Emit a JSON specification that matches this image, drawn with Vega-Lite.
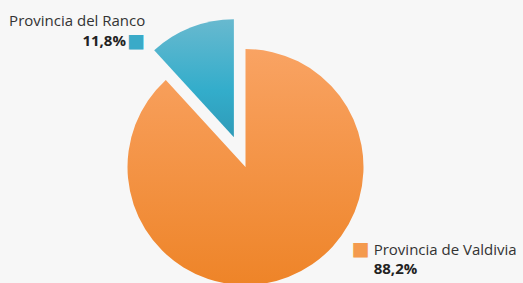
{
  "$schema": "https://vega.github.io/schema/vega-lite/v6.json",
  "width": 491,
  "height": 232,
  "autosize": {"type": "none"},
  "padding": {"left": 0, "top": 51, "right": 32, "bottom": 0},
  "background": "#f7f7f7",
  "config": {"view": {"stroke": null}},
  "data": {
    "values": [
      {"provincia": "Provincia de Valdivia", "pct": 88.2, "label": "88,2%"},
      {"provincia": "Provincia del Ranco", "pct": 11.8, "label": "11,8%"}
    ]
  },
  "encoding": {
    "theta": {"field": "pct", "type": "quantitative", "stack": true},
    "order": {"field": "pct", "type": "quantitative", "sort": "descending"}
  },
  "layer": [
    {
      "mark": {
        "type": "arc",
        "radius": 118,
        "fill": {"gradient": "linear", "x1": 0, "y1": 0, "x2": 0, "y2": 1,
          "stops": [{"offset": 0, "color": "#f9a363"}, {"offset": 1, "color": "#ee8428"}]}
      },
      "encoding": {
        "opacity": {"condition": {"test": "datum.provincia === 'Provincia de Valdivia'", "value": 1}, "value": 0}
      }
    },
    {
      "mark": {
        "type": "arc",
        "radius": 118,
        "xOffset": -11.6,
        "yOffset": -29.8,
        "fill": {"gradient": "linear", "x1": 0, "y1": 0, "x2": 0, "y2": 1,
          "stops": [{"offset": 0, "color": "#68b9cf"}, {"offset": 0.6, "color": "#33adcb"}, {"offset": 1, "color": "#2f9bb8"}]}
      },
      "encoding": {
        "opacity": {"condition": {"test": "datum.provincia === 'Provincia del Ranco'", "value": 1}, "value": 0}
      }
    },
    {
      "mark": {"type": "text", "radius": 150, "align": "right", "baseline": "alphabetic", "dx": -45.9, "dy": -0.8, "font": "Open Sans", "fontSize": 15, "fill": "#333333"},
      "encoding": {
        "text": {"condition": {"test": "datum.provincia === 'Provincia del Ranco'", "field": "provincia"}, "value": ""}
      }
    },
    {
      "mark": {"type": "text", "radius": 150, "align": "right", "baseline": "alphabetic", "dx": -65.2, "dy": 18.5, "font": "Open Sans", "fontSize": 15, "fontWeight": "bold", "fill": "#222222"},
      "encoding": {
        "text": {"condition": {"test": "datum.provincia === 'Provincia del Ranco'", "field": "label"}, "value": ""}
      }
    },
    {
      "mark": {"type": "text", "radius": 150, "align": "center", "baseline": "middle", "dx": -54.9, "dy": 13.6, "font": "DejaVu Sans", "fontSize": 19, "fill": "#3aaac8", "text": "■"},
      "encoding": {
        "opacity": {"condition": {"test": "datum.provincia === 'Provincia del Ranco'", "value": 1}, "value": 0}
      }
    },
    {
      "mark": {"type": "text", "radius": 130, "align": "left", "baseline": "alphabetic", "dx": 81.1, "dy": -32.9, "font": "Open Sans", "fontSize": 15, "fill": "#333333"},
      "encoding": {
        "text": {"condition": {"test": "datum.provincia === 'Provincia de Valdivia'", "field": "provincia"}, "value": ""}
      }
    },
    {
      "mark": {"type": "text", "radius": 130, "align": "left", "baseline": "alphabetic", "dx": 81.1, "dy": -14.5, "font": "Open Sans", "fontSize": 15, "fontWeight": "bold", "fill": "#222222"},
      "encoding": {
        "text": {"condition": {"test": "datum.provincia === 'Provincia de Valdivia'", "field": "label"}, "value": ""}
      }
    },
    {
      "mark": {"type": "text", "radius": 130, "align": "center", "baseline": "middle", "dx": 68.2, "dy": -39.2, "font": "DejaVu Sans", "fontSize": 19, "fill": "#f49a4e", "text": "■"},
      "encoding": {
        "opacity": {"condition": {"test": "datum.provincia === 'Provincia de Valdivia'", "value": 1}, "value": 0}
      }
    }
  ]
}
